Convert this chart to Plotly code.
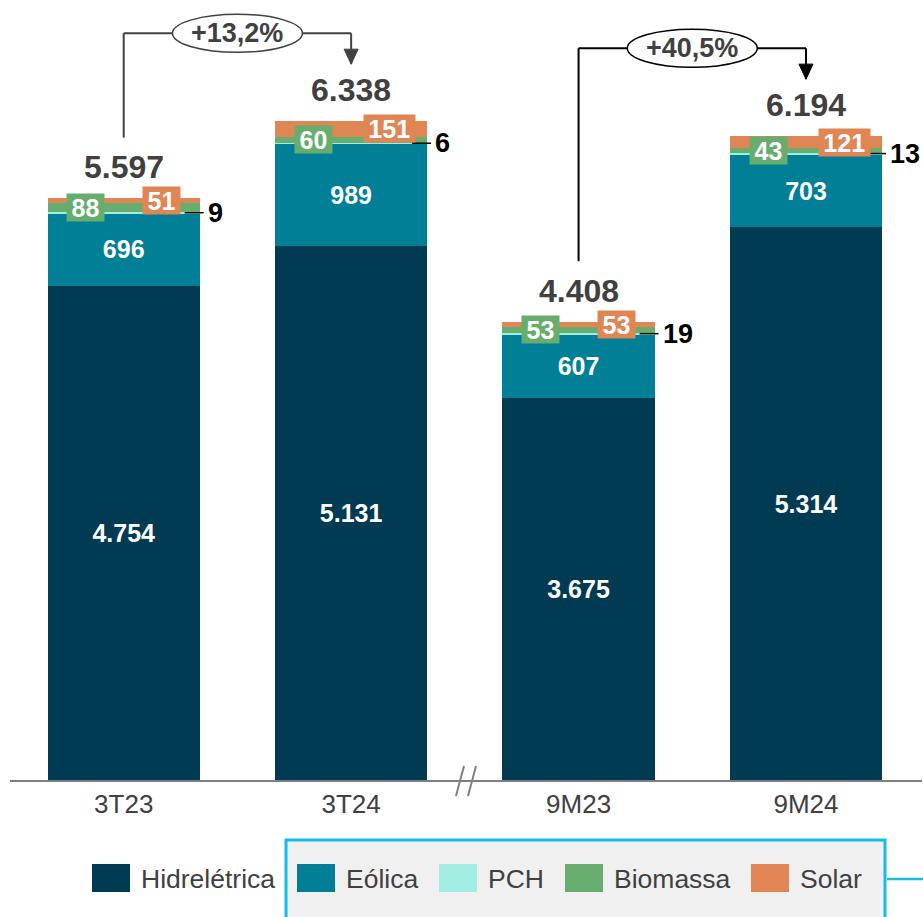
import plotly.graph_objects as go

# Geração por fonte (GWh)
categories = ["3T23", "3T24", "9M23", "9M24"]
hidreletrica = [4754, 5131, 3675, 5314]
eolica = [696, 989, 607, 703]
pch = [9, 6, 19, 13]
biomassa = [88, 60, 53, 43]
solar = [51, 151, 53, 121]
totals = [5597, 6338, 4408, 6194]
growth_labels = ["+13,2%", "+40,5%"]

series_names = ["Hidrelétrica", "Eólica", "PCH", "Biomassa", "Solar"]
series_values = [hidreletrica, eolica, pch, biomassa, solar]
series_colors = ["#003a53", "#007f97", "#a3eee3", "#66ad6e", "#e08655"]

FONT = "Liberation Sans, Arial, sans-serif"
TXT = "#404040"

W, H = 923, 917
ML, MR, MT, MB = 10, 1, 0, 137
YMAX = 7500


def px_x(px):
    return (px - ML) / (W - ML - MR)


def px_y(py):
    return (H - MB - py) / (H - MT - MB)


def fmt(v):
    return f"{v:,}".replace(",", ".")


fig = go.Figure()
for name, vals, color in zip(series_names, series_values, series_colors):
    inside = name in ("Hidrelétrica", "Eólica")
    fig.add_trace(go.Bar(
        x=categories, y=vals, name=name, marker=dict(color=color, line=dict(width=0)),
        width=0.67,
        texttemplate="%{y:,.0f}" if inside else None,
        textposition="inside" if inside else "none",
        insidetextanchor="middle",
        constraintext="none",
        textfont=dict(family=FONT, size=25, color="white", weight="bold"),
        showlegend=False, hoverinfo="name+y",
    ))

shapes = []
annotations = []

for i, cat in enumerate(categories):
    base_pch = hidreletrica[i] + eolica[i]
    pch_mid = base_pch + pch[i] / 2
    bio_mid = base_pch + pch[i] + biomassa[i] / 2
    sol_mid = base_pch + pch[i] + biomassa[i] + solar[i] / 2

    # total above the stack
    annotations.append(dict(
        x=i, y=totals[i], xref="x", yref="y", text=fmt(totals[i]), showarrow=False,
        yshift=31, yanchor="middle",
        font=dict(family=FONT, size=32, color=TXT, weight="bold"),
    ))
    # biomassa / solar value boxes
    for val, mid, color, dx in ((biomassa[i], bio_mid, series_colors[3], -38),
                                (solar[i], sol_mid, series_colors[4], 38)):
        txt = fmt(val)
        annotations.append(dict(
            x=i, y=mid, xref="x", yref="y", text=txt, showarrow=False,
            xshift=dx, yanchor="middle", bgcolor=color, borderpad=0,
            width=13.5 * len(txt) + 10, height=27,
            font=dict(family=FONT, size=25, color="white", weight="bold"),
        ))
    # PCH leader line and value
    shapes.append(dict(
        type="line", xref="x", yref="y", xsizemode="pixel", xanchor=i,
        x0=61, x1=80, y0=pch_mid, y1=pch_mid, line=dict(color="black", width=1.5),
    ))
    annotations.append(dict(
        x=i, y=pch_mid, xref="x", yref="y", text=fmt(pch[i]), showarrow=False,
        xshift=82, xanchor="left", yanchor="middle",
        font=dict(family=FONT, size=27, color="black", weight="bold"),
    ))

# growth brackets between periods
bracket_colors = [TXT, "black"]
for k, (a, b) in enumerate(((0, 1), (2, 3))):
    top = max(totals[a], totals[b]) + 842
    start = totals[a] + 580
    tip = totals[b] + 545
    col = bracket_colors[k]
    shapes += [
        dict(type="line", xref="x", yref="y", x0=a, x1=a, y0=start, y1=top,
             line=dict(color=col, width=2)),
        dict(type="line", xref="x", yref="y", x0=a, x1=b, y0=top, y1=top,
             line=dict(color=col, width=2)),
        dict(type="line", xref="x", yref="y", x0=b, x1=b, y0=top, y1=tip,
             line=dict(color=col, width=2)),
        dict(type="path", xref="x", yref="y", xsizemode="pixel", ysizemode="pixel",
             xanchor=b, yanchor=tip, path="M-7,15 L7,15 L0,0 Z",
             fillcolor=col, line=dict(color=col, width=1)),
        dict(type="circle", xref="x", yref="y", xsizemode="pixel", ysizemode="pixel",
             xanchor=(a + b) / 2, yanchor=top, x0=-65, x1=65, y0=-19, y1=19,
             fillcolor="white", line=dict(color=col, width=1.5)),
    ]
    annotations.append(dict(
        x=(a + b) / 2, y=top, xref="x", yref="y", text=growth_labels[k], showarrow=False,
        yanchor="middle", font=dict(family=FONT, size=27, color=TXT, weight="bold"),
    ))

# axis break marks, midway between 3T24 and 9M23
for dx in (-10, 2):
    shapes.append(dict(
        type="line", xref="paper", yref="paper", xsizemode="pixel", ysizemode="pixel",
        xanchor=0.5, yanchor=0, x0=dx, x1=dx + 8, y0=-16, y1=14,
        line=dict(color="#7f7f7f", width=2),
    ))

# legend panel
shapes.append(dict(
    type="rect", xref="paper", yref="paper", layer="below",
    x0=px_x(286), x1=px_x(885), y0=px_y(930), y1=px_y(840),
    fillcolor="#f0f0f0", line=dict(color="#14bde8", width=3),
))
shapes.append(dict(
    type="line", xref="paper", yref="paper",
    x0=px_x(887), x1=px_x(925), y0=px_y(879), y1=px_y(879),
    line=dict(color="#14bde8", width=2.5),
))

legend_left = [92, 297, 439, 565, 751]
for name, color, lx in zip(series_names, series_colors, legend_left):
    shapes.append(dict(
        type="rect", xref="paper", yref="paper",
        x0=px_x(lx), x1=px_x(lx + 38), y0=px_y(892), y1=px_y(864),
        fillcolor=color, line=dict(width=0),
    ))
    annotations.append(dict(
        x=px_x(lx + 47), y=px_y(879), xref="paper", yref="paper", text=name,
        showarrow=False, xanchor="left", yanchor="middle",
        font=dict(family=FONT, size=26.5, color=TXT),
    ))

fig.update_layout(
    width=W, height=H, barmode="stack", separators=",.",
    margin=dict(l=ML, r=MR, t=MT, b=MB, autoexpand=False),
    paper_bgcolor="white", plot_bgcolor="white",
    xaxis=dict(type="category", showline=True, linecolor="#7f7f7f", linewidth=2,
               ticks="", tickfont=dict(family=FONT, size=26, color=TXT),
               showgrid=False, zeroline=False, fixedrange=True),
    yaxis=dict(range=[0, YMAX], visible=False, showgrid=False, zeroline=False),
    shapes=shapes, annotations=annotations, showlegend=False,
)

fig.write_html("out.html")
